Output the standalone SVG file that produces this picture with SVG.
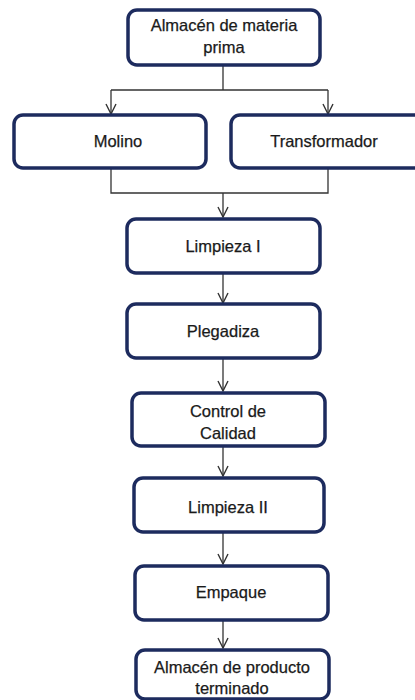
<svg xmlns="http://www.w3.org/2000/svg" width="415" height="700" viewBox="0 0 415 700">
<style>
.box{fill:#fff;stroke:#1d2b5e;stroke-width:3.5}
.t{font-family:"Liberation Sans",Arial,sans-serif;font-size:16.5px;fill:#1a1a1a;stroke:#1a1a1a;stroke-width:0.25;text-anchor:middle}
.c{fill:none;stroke:#333;stroke-width:1.3}
</style>
<defs>
<marker id="a" viewBox="0 0 12 12" refX="11" refY="6" markerWidth="12" markerHeight="12" markerUnits="userSpaceOnUse" orient="auto">
<path d="M1,1 L11,6 L1,11" fill="none" stroke="#333" stroke-width="1.4"/>
</marker>
</defs>
<rect width="415" height="700" fill="#fff"/>
<g id="connectors">
<path class="c" d="M223,65 V90 M111,90 H328"/>
<path class="c" d="M111,90 V114" marker-end="url(#a)"/>
<path class="c" d="M328,90 V114" marker-end="url(#a)"/>
<path class="c" d="M111,168 V193 H328 V168"/>
<path class="c" d="M223,193 V217" marker-end="url(#a)"/>
<path class="c" d="M223,273 V303" marker-end="url(#a)"/>
<path class="c" d="M223,358 V391" marker-end="url(#a)"/>
<path class="c" d="M223,446 V476" marker-end="url(#a)"/>
<path class="c" d="M223,532 V564" marker-end="url(#a)"/>
<path class="c" d="M223,620 V648" marker-end="url(#a)"/>
</g>
<g id="n1"><rect class="box" x="128" y="10" width="192" height="55" rx="9"/><text class="t" x="224" y="31">Almacén de materia</text><text class="t" x="224" y="53">prima</text></g>
<g id="n2"><rect class="box" x="14" y="115" width="192" height="53" rx="9"/><text class="t" x="118" y="147">Molino</text></g>
<g id="n3"><rect class="box" x="231" y="115" width="192" height="53" rx="9"/><text class="t" x="324" y="147">Transformador</text></g>
<g id="n4"><rect class="box" x="127" y="219" width="193" height="54" rx="9"/><text class="t" x="223" y="252">Limpieza I</text></g>
<g id="n5"><rect class="box" x="127" y="304" width="193" height="54" rx="9"/><text class="t" x="223" y="337">Plegadiza</text></g>
<g id="n6"><rect class="box" x="132" y="393" width="193" height="53" rx="9"/><text class="t" x="228" y="417">Control de</text><text class="t" x="228" y="439">Calidad</text></g>
<g id="n7"><rect class="box" x="134" y="478" width="190" height="54" rx="9"/><text class="t" x="228" y="513">Limpieza II</text></g>
<g id="n8"><rect class="box" x="135" y="566" width="193" height="54" rx="9"/><text class="t" x="231" y="598">Empaque</text></g>
<g id="n9"><rect class="box" x="136" y="650" width="193" height="49" rx="9"/><text class="t" x="232" y="673">Almacén de producto</text><text class="t" x="232" y="694">terminado</text></g>
</svg>
